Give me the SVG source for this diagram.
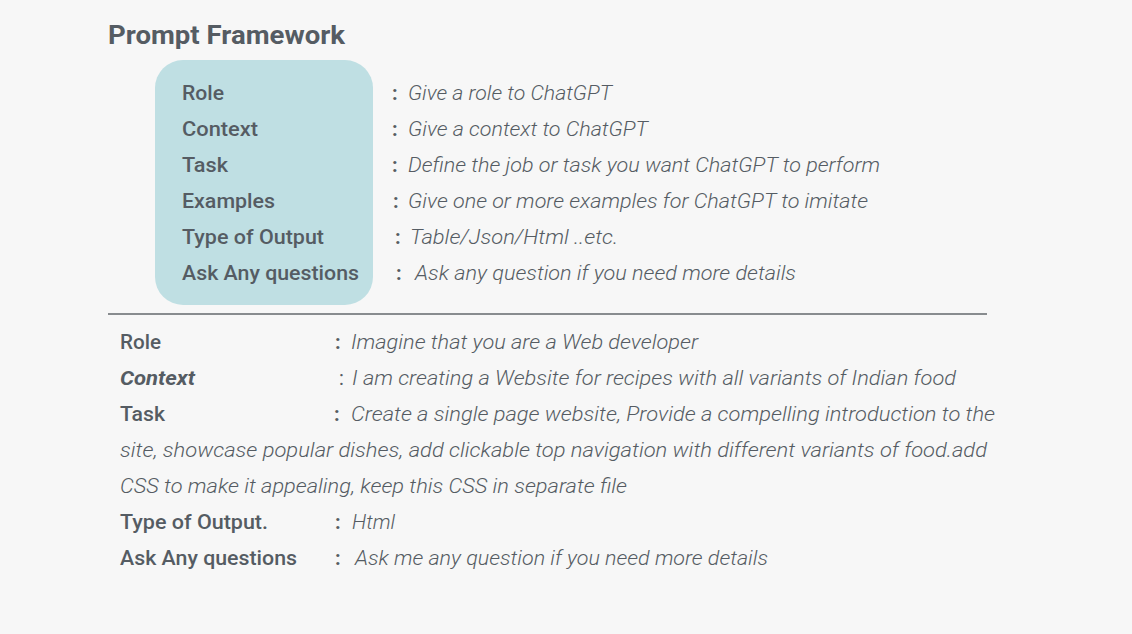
<svg xmlns="http://www.w3.org/2000/svg" width="1132" height="634" viewBox="0 0 1132 634">
<style>
text{font-family:Roboto,"Liberation Sans",sans-serif;fill:#555c63;font-size:20px}
.t{font-size:25px;font-weight:700}
.l{font-weight:500}
.c{font-weight:700}
.d{font-style:italic;font-weight:300}
.li{font-style:italic;font-weight:700}
</style>
<rect width="1132" height="634" fill="#f7f7f7"/>
<g id="title"><text class="t" x="108" y="44" textLength="237" lengthAdjust="spacingAndGlyphs">Prompt Framework</text></g>
<g id="framework">
<rect x="155" y="60" width="218" height="245" rx="28" fill="#bfdfe3"/>
<text class="l" x="182" y="100" textLength="42" lengthAdjust="spacingAndGlyphs">Role</text>
<text class="l" x="182" y="136" textLength="76" lengthAdjust="spacingAndGlyphs">Context</text>
<text class="l" x="182" y="172" textLength="46" lengthAdjust="spacingAndGlyphs">Task</text>
<text class="l" x="182" y="208" textLength="93" lengthAdjust="spacingAndGlyphs">Examples</text>
<text class="l" x="182" y="244" textLength="142" lengthAdjust="spacingAndGlyphs">Type of Output</text>
<text class="l" x="182" y="280" textLength="177" lengthAdjust="spacingAndGlyphs">Ask Any questions</text>
<text class="c" x="392" y="100">:</text>
<text class="c" x="392" y="136">:</text>
<text class="c" x="392" y="172">:</text>
<text class="c" x="393" y="208">:</text>
<text class="c" x="395" y="244">:</text>
<text class="c" x="396" y="280">:</text>
<text class="d" x="408" y="100" textLength="204" lengthAdjust="spacingAndGlyphs">Give a role to ChatGPT</text>
<text class="d" x="408" y="136" textLength="240" lengthAdjust="spacingAndGlyphs">Give a context to ChatGPT</text>
<text class="d" x="408" y="172" textLength="472" lengthAdjust="spacingAndGlyphs">Define the job or task you want ChatGPT to perform</text>
<text class="d" x="408" y="208" textLength="460" lengthAdjust="spacingAndGlyphs">Give one or more examples for ChatGPT to imitate</text>
<text class="d" x="410" y="244" textLength="208" lengthAdjust="spacingAndGlyphs">Table/Json/Html ..etc.</text>
<text class="d" x="415" y="280" textLength="381" lengthAdjust="spacingAndGlyphs">Ask any question if you need more details</text>
</g>
<g id="divider"><line x1="108" y1="314" x2="987" y2="314" stroke="#63686d" stroke-width="1.6"/></g>
<g id="example">
<text class="l" x="120" y="349" textLength="41" lengthAdjust="spacingAndGlyphs">Role</text>
<text class="li" x="120" y="385" textLength="75" lengthAdjust="spacingAndGlyphs">Context</text>
<text class="l" x="120" y="421" textLength="45" lengthAdjust="spacingAndGlyphs">Task</text>
<text class="l" x="120" y="529" textLength="148" lengthAdjust="spacingAndGlyphs">Type of Output.</text>
<text class="l" x="120" y="565" textLength="177" lengthAdjust="spacingAndGlyphs">Ask Any questions</text>
<text class="c" x="335" y="349">:</text>
<text class="c" x="339" y="385" style="font-weight:400">:</text>
<text class="c" x="334" y="421">:</text>
<text class="c" x="335" y="529">:</text>
<text class="c" x="335" y="565">:</text>
<text class="d" x="351" y="349" textLength="347" lengthAdjust="spacingAndGlyphs">Imagine that you are a Web developer</text>
<text class="d" x="352" y="385" textLength="604" lengthAdjust="spacingAndGlyphs">I am creating a Website for recipes with all variants of Indian food</text>
<text class="d" x="351" y="421" textLength="644" lengthAdjust="spacingAndGlyphs">Create a single page website, Provide a compelling introduction to the</text>
<text class="d" x="120" y="457" textLength="867" lengthAdjust="spacingAndGlyphs">site, showcase popular dishes, add clickable top navigation with different variants of food.add</text>
<text class="d" x="120" y="493" textLength="507" lengthAdjust="spacingAndGlyphs">CSS to make it appealing, keep this CSS in separate file</text>
<text class="d" x="352" y="529" textLength="43" lengthAdjust="spacingAndGlyphs">Html</text>
<text class="d" x="355" y="565" textLength="413" lengthAdjust="spacingAndGlyphs">Ask me any question if you need more details</text>
</g>
</svg>
